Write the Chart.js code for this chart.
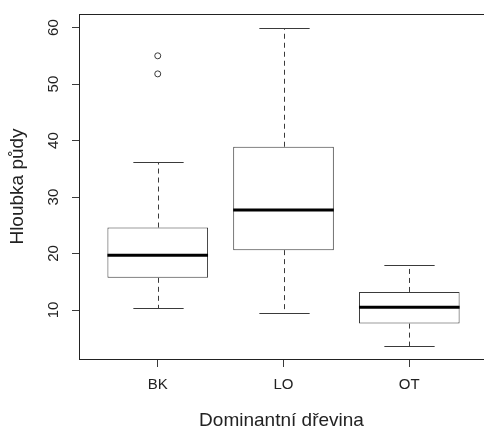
<!DOCTYPE html>
<html>
<head>
<meta charset="utf-8">
<script src="https://cdn.jsdelivr.net/npm/chart.js@4.4.0/dist/chart.umd.min.js"></script>
<style>
html,body{margin:0;padding:0;background:#fff;}
#wrap{width:484px;height:429px;}
</style>
</head>
<body>
<div id="wrap"><canvas id="c" width="484" height="429"></canvas></div>
<script>
// Data
const categories = ['BK', 'LO', 'OT'];
const whiskerLow = [10.3, 9.5, 3.6];
const q1 = [15.7, 20.6, 7.6];
const median = [19.7, 27.7, 10.5];
const q3 = [24.6, 38.9, 13.2];
const whiskerHigh = [36.2, 60.0, 18.0];
const outlierCat = [0, 0];
const outlierVal = [55.0, 51.8];
const yTicks = [10, 20, 30, 40, 50, 60];

const LINE = '#3a3a3a';
const FRAME = '#222';

const boxPlugin = {
  id: 'boxParts',
  afterDatasetsDraw(chart) {
    const ctx = chart.ctx;
    const xs = chart.scales.x, ys = chart.scales.y;
    const meta = chart.getDatasetMeta(0);
    ctx.save();
    categories.forEach((c, i) => {
      const bar = meta.data[i];
      const cx = Math.round(xs.getPixelForValue(i)) + 0.5;
      const half = bar.width / 2;
      const capHalf = half / 2;
      const yWL = Math.round(ys.getPixelForValue(whiskerLow[i])) + 0.5;
      const yWH = Math.round(ys.getPixelForValue(whiskerHigh[i])) + 0.5;
      const yQ1 = ys.getPixelForValue(q1[i]);
      const yQ3 = ys.getPixelForValue(q3[i]);
      const yMed = ys.getPixelForValue(median[i]);
      ctx.strokeStyle = LINE;
      ctx.lineWidth = 1;
      // dashed whiskers
      ctx.setLineDash([5, 4]);
      ctx.beginPath();
      ctx.moveTo(cx, yQ3); ctx.lineTo(cx, yWH);
      ctx.moveTo(cx, yQ1); ctx.lineTo(cx, yWL);
      ctx.stroke();
      // caps
      ctx.setLineDash([]);
      ctx.beginPath();
      ctx.moveTo(cx - capHalf, yWH); ctx.lineTo(cx + capHalf, yWH);
      ctx.moveTo(cx - capHalf, yWL); ctx.lineTo(cx + capHalf, yWL);
      ctx.stroke();
      // median
      ctx.strokeStyle = '#000';
      ctx.lineWidth = 3;
      ctx.beginPath();
      ctx.moveTo(bar.x - half, yMed); ctx.lineTo(bar.x + half, yMed);
      ctx.stroke();
    });
    // top frame line
    const a = chart.chartArea;
    ctx.strokeStyle = FRAME;
    ctx.lineWidth = 1;
    ctx.beginPath();
    ctx.moveTo(a.left, Math.round(a.top) + 0.5);
    ctx.lineTo(a.right, Math.round(a.top) + 0.5);
    ctx.stroke();
    ctx.restore();
  }
};

new Chart(document.getElementById('c'), {
  type: 'bar',
  data: {
    datasets: [
      {
        type: 'bar',
        data: categories.map((c, i) => ({ x: i, y: [q1[i], q3[i]] })),
        backgroundColor: '#ffffff',
        borderColor: LINE,
        borderWidth: 1,
        borderSkipped: false,
        categoryPercentage: 1,
        barPercentage: 0.8
      },
      {
        type: 'scatter',
        data: outlierCat.map((c, i) => ({ x: c, y: outlierVal[i] })),
        pointStyle: 'circle',
        pointRadius: 3,
        borderColor: LINE,
        backgroundColor: 'rgba(0,0,0,0)',
        borderWidth: 1
      }
    ]
  },
  plugins: [boxPlugin],
  options: {
    responsive: false,
    animation: false,
    layout: { autoPadding: false, padding: { top: 14, left: 0, right: 0, bottom: 0 } },
    plugins: { legend: { display: false }, tooltip: { enabled: false } },
    scales: {
      x: {
        type: 'linear',
        offset: false,
        min: -0.626,
        max: 2.594,
        afterBuildTicks: (s) => { s.ticks = categories.map((c, i) => ({ value: i })); },
        afterFit: (s) => { s.height = 70; s.paddingLeft = 0; s.paddingRight = 0; s.paddingTop = 0; s.paddingBottom = 0; },
        ticks: {
          callback: (v) => categories[v],
          color: '#222',
          font: { family: 'Liberation Sans, Arial, sans-serif', size: 15 },
          padding: 9,
          maxRotation: 0,
          autoSkip: false
        },
        grid: { drawOnChartArea: false, offset: false, tickLength: 8, color: LINE },
        border: { display: true, color: FRAME },
        title: {
          display: true,
          text: 'Dominantní dřevina',
          color: '#222',
          font: { family: 'Liberation Sans, Arial, sans-serif', size: 19, lineHeight: 1 },
          padding: { top: 0, bottom: -1 }
        }
      },
      y: {
        type: 'linear',
        min: 1.33,
        max: 62.4,
        afterBuildTicks: (s) => { s.ticks = yTicks.map(v => ({ value: v })); },
        afterFit: (s) => { s.width = 79; s.paddingLeft = 0; s.paddingRight = 0; s.paddingTop = 0; s.paddingBottom = 0; },
        ticks: {
          color: '#222',
          font: { family: 'Liberation Sans, Arial, sans-serif', size: 15 },
          minRotation: 90,
          maxRotation: 90,
          crossAlign: 'center',
          padding: 10
        },
        grid: { drawOnChartArea: false, tickLength: 7, color: LINE },
        border: { display: true, color: FRAME },
        title: {
          display: true,
          text: 'Hloubka půdy',
          color: '#222',
          font: { family: 'Liberation Sans, Arial, sans-serif', size: 19, lineHeight: 1 },
          padding: { top: 8, bottom: 0 }
        }
      }
    }
  }
});
</script>
</body>
</html>
